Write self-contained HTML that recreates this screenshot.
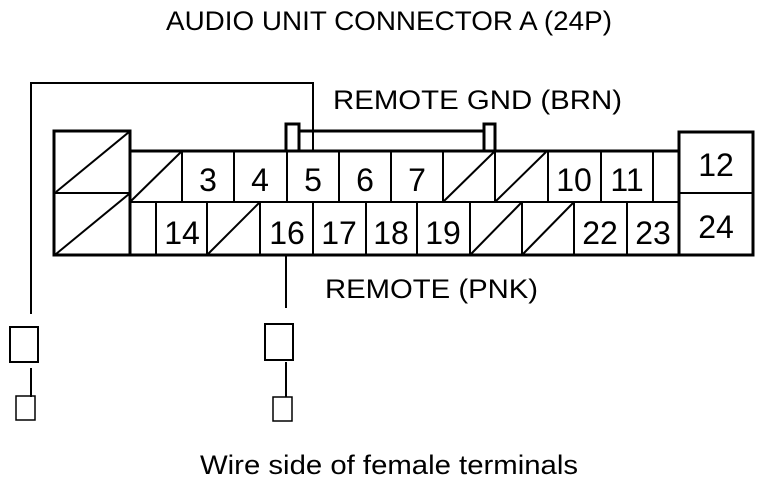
<!DOCTYPE html>
<html><head><style>
body{margin:0;background:#fff;}
svg text{font-family:"Liberation Sans",Arial,sans-serif;fill:#000;}
</style></head><body>
<svg width="768" height="484" viewBox="0 0 768 484" xmlns="http://www.w3.org/2000/svg">
<g font-size="27">
<text x="166" y="30" textLength="446" lengthAdjust="spacingAndGlyphs">AUDIO UNIT CONNECTOR A (24P)</text>
<text x="333" y="109" textLength="289" lengthAdjust="spacingAndGlyphs">REMOTE GND (BRN)</text>
<text x="325" y="298" textLength="213" lengthAdjust="spacingAndGlyphs">REMOTE (PNK)</text>
<text x="200" y="474" textLength="378" lengthAdjust="spacingAndGlyphs">Wire side of female terminals</text>
</g>
<g fill="none" stroke="#000">
<polyline points="31,314 31,83 313,83 313,151" stroke-width="2"/>
<line x1="286" y1="255" x2="286" y2="308" stroke-width="2"/>
<rect x="10" y="327" width="28" height="35" stroke-width="2"/>
<line x1="31" y1="368" x2="31" y2="397" stroke-width="2"/>
<rect x="16" y="396" width="19" height="24" stroke-width="1.5"/>
<rect x="265" y="324" width="28" height="36" stroke-width="2"/>
<line x1="286" y1="362" x2="286" y2="397" stroke-width="2"/>
<rect x="273" y="397" width="19" height="24" stroke-width="1.5"/>
<polyline points="286,151 286,124 299,124 299,151" stroke-width="3"/>
<polyline points="484,151 484,124 495,124 495,151" stroke-width="3"/>
<line x1="299" y1="131" x2="484" y2="131" stroke-width="3"/>
<rect x="54" y="131" width="76" height="124" stroke-width="3"/>
<line x1="54" y1="193" x2="130" y2="193" stroke-width="2"/>
<line x1="56" y1="192" x2="129" y2="132" stroke-width="2"/>
<line x1="56" y1="254" x2="129" y2="194" stroke-width="2"/>
<rect x="679" y="132" width="74" height="123" stroke-width="3"/>
<line x1="679" y1="193" x2="753" y2="193" stroke-width="2"/>
<line x1="130" y1="151" x2="679" y2="151" stroke-width="3"/>
<line x1="130" y1="255" x2="679" y2="255" stroke-width="3"/>
<line x1="130" y1="202" x2="679" y2="202" stroke-width="2"/>
<g stroke-width="2">
<line x1="182" y1="151" x2="182" y2="202"/><line x1="234" y1="151" x2="234" y2="202"/>
<line x1="287" y1="151" x2="287" y2="202"/><line x1="339" y1="151" x2="339" y2="202"/>
<line x1="391" y1="151" x2="391" y2="202"/><line x1="443" y1="151" x2="443" y2="202"/>
<line x1="495" y1="151" x2="495" y2="202"/><line x1="548" y1="151" x2="548" y2="202"/>
<line x1="601" y1="151" x2="601" y2="202"/><line x1="653" y1="151" x2="653" y2="202"/>
<line x1="156" y1="202" x2="156" y2="255"/><line x1="207" y1="202" x2="207" y2="255"/>
<line x1="260" y1="202" x2="260" y2="255"/><line x1="313" y1="202" x2="313" y2="255"/>
<line x1="366" y1="202" x2="366" y2="255"/><line x1="417" y1="202" x2="417" y2="255"/>
<line x1="470" y1="202" x2="470" y2="255"/><line x1="522" y1="202" x2="522" y2="255"/>
<line x1="574" y1="202" x2="574" y2="255"/><line x1="627" y1="202" x2="627" y2="255"/>
<line x1="131" y1="201" x2="181" y2="152"/>
<line x1="444" y1="201" x2="494" y2="152"/>
<line x1="496" y1="201" x2="546" y2="152"/>
<line x1="208" y1="254" x2="259" y2="203"/>
<line x1="471" y1="254" x2="521" y2="203"/>
<line x1="523" y1="254" x2="573" y2="203"/>
</g>
</g>
<g font-size="32" text-anchor="middle">
<text x="208" y="191">3</text><text x="260" y="191">4</text>
<text x="313" y="191">5</text><text x="365" y="191">6</text>
<text x="417" y="191">7</text><text x="574" y="191">10</text>
<text x="627" y="191">11</text><text x="716" y="176">12</text>
<text x="182" y="244">14</text><text x="287" y="244">16</text>
<text x="339" y="244">17</text><text x="391" y="244">18</text>
<text x="443" y="244">19</text><text x="600" y="244">22</text>
<text x="653" y="244">23</text><text x="716" y="238">24</text>
</g>
</svg>
</body></html>
